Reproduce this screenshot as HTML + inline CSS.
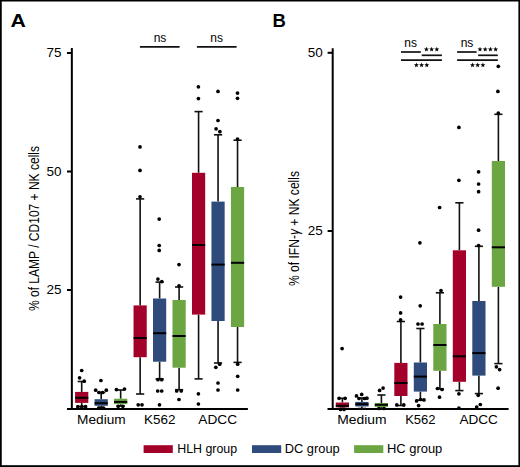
<!DOCTYPE html>
<html><head><meta charset="utf-8">
<style>
html,body{margin:0;padding:0;background:#fff;}
body{width:520px;height:467px;overflow:hidden;}
svg{display:block;}
text{font-family:"Liberation Sans",sans-serif;fill:#000;}

.L{font-size:18.5px;font-weight:bold;fill:#000;}
.t{font-size:13px;}
.tk{font-size:13.5px;}
.yl{font-size:14.5px;}
.ns{font-size:12px;}
.lg{font-size:12px;}
.w{stroke:#111;stroke-width:1.6;}
.m{stroke:#000;stroke-width:2;}
.ax{stroke:#000;stroke-width:2;}
.sg{stroke:#111;stroke-width:1.7;}
circle{fill:#000;}
polygon{fill:#000;}
</style></head><body>
<svg width="520" height="467" viewBox="0 0 520 467">
<rect x="0" y="0" width="520" height="1.5" fill="#000"/><rect x="0" y="0" width="1.75" height="467" fill="#000"/><rect x="518.4" y="0" width="1.6" height="467" fill="#000"/><rect x="0" y="465.2" width="520" height="1.8" fill="#000"/>
<text transform="translate(10.6,26.6) scale(1.15,1)" class="L">A</text>
<text x="272.5" y="27.4" class="L">B</text>
<line x1="71.85" y1="48" x2="71.85" y2="409.7" class="ax"/>
<line x1="67" y1="408.9" x2="247.9" y2="408.9" class="ax"/>
<line x1="67" y1="53" x2="72" y2="53" class="ax"/>
<text x="61.5" y="57.0" class="tk" text-anchor="end">75</text>
<line x1="67" y1="171.5" x2="72" y2="171.5" class="ax"/>
<text x="61.5" y="175.5" class="tk" text-anchor="end">50</text>
<line x1="67" y1="290" x2="72" y2="290" class="ax"/>
<text x="61.5" y="294.0" class="tk" text-anchor="end">25</text>
<line x1="332.7" y1="48.3" x2="332.7" y2="409.9" class="ax"/>
<line x1="327.5" y1="409" x2="508.6" y2="409" class="ax"/>
<line x1="327.6" y1="52.8" x2="333" y2="52.8" class="ax"/>
<text x="322.8" y="57.099999999999994" class="tk" text-anchor="end">50</text>
<line x1="327.6" y1="231" x2="333" y2="231" class="ax"/>
<text x="322.8" y="235.3" class="tk" text-anchor="end">25</text>
<line x1="81.70" y1="381.5" x2="81.70" y2="391.9" class="w"/>
<line x1="81.70" y1="402.9" x2="81.70" y2="406.5" class="w"/>
<line x1="77.60" y1="381.5" x2="85.80" y2="381.5" class="w"/>
<line x1="77.60" y1="406.5" x2="85.80" y2="406.5" class="w"/>
<rect x="75.10" y="391.9" width="13.20" height="11.00" fill="#A3002A"/>
<line x1="75.10" y1="397.8" x2="88.30" y2="397.8" class="m"/>
<circle cx="79.6" cy="377.8" r="1.85"/>
<circle cx="81.7" cy="370.5" r="1.85"/>
<circle cx="84.2" cy="381.2" r="1.85"/>
<circle cx="77.8" cy="406.7" r="1.85"/>
<circle cx="81.8" cy="406.7" r="1.85"/>
<circle cx="85.6" cy="406.7" r="1.85"/>
<line x1="101.18" y1="392.5" x2="101.18" y2="399.2" class="w"/>
<line x1="101.18" y1="405.8" x2="101.18" y2="407.5" class="w"/>
<line x1="97.08" y1="392.5" x2="105.28" y2="392.5" class="w"/>
<line x1="97.08" y1="407.5" x2="105.28" y2="407.5" class="w"/>
<rect x="94.58" y="399.2" width="13.20" height="6.60" fill="#2E4B7C"/>
<line x1="94.58" y1="403.2" x2="107.78" y2="403.2" class="m"/>
<circle cx="95.7" cy="390.2" r="1.85"/>
<circle cx="99.1" cy="392.5" r="1.85"/>
<circle cx="102.6" cy="392.5" r="1.85"/>
<circle cx="106.3" cy="390.2" r="1.85"/>
<circle cx="100.9" cy="380.5" r="1.85"/>
<circle cx="99" cy="408" r="1.85"/>
<circle cx="103" cy="408" r="1.85"/>
<line x1="120.66" y1="390.0" x2="120.66" y2="398.7" class="w"/>
<line x1="120.66" y1="404.2" x2="120.66" y2="406.0" class="w"/>
<line x1="116.56" y1="390.0" x2="124.76" y2="390.0" class="w"/>
<line x1="116.56" y1="406.0" x2="124.76" y2="406.0" class="w"/>
<rect x="114.06" y="398.7" width="13.20" height="5.50" fill="#6BA643"/>
<line x1="114.06" y1="401.9" x2="127.26" y2="401.9" class="m"/>
<circle cx="116.4" cy="389.6" r="1.85"/>
<circle cx="124.5" cy="389" r="1.85"/>
<circle cx="118.2" cy="406.3" r="1.85"/>
<circle cx="122.8" cy="406.3" r="1.85"/>
<line x1="140.14" y1="198.9" x2="140.14" y2="305.4" class="w"/>
<line x1="140.14" y1="357.2" x2="140.14" y2="394.0" class="w"/>
<line x1="136.04" y1="198.9" x2="144.24" y2="198.9" class="w"/>
<line x1="136.04" y1="394.0" x2="144.24" y2="394.0" class="w"/>
<rect x="133.54" y="305.4" width="13.20" height="51.80" fill="#A3002A"/>
<line x1="133.54" y1="338.0" x2="146.74" y2="338.0" class="m"/>
<circle cx="140" cy="146.9" r="1.85"/>
<circle cx="140" cy="170.4" r="1.85"/>
<circle cx="140" cy="196.8" r="1.85"/>
<circle cx="138.2" cy="404.8" r="1.85"/>
<circle cx="142" cy="404.8" r="1.85"/>
<line x1="159.62" y1="282.1" x2="159.62" y2="298.5" class="w"/>
<line x1="159.62" y1="361.7" x2="159.62" y2="379.0" class="w"/>
<line x1="155.52" y1="282.1" x2="163.72" y2="282.1" class="w"/>
<line x1="155.52" y1="379.0" x2="163.72" y2="379.0" class="w"/>
<rect x="153.02" y="298.5" width="13.20" height="63.20" fill="#2E4B7C"/>
<line x1="153.02" y1="333.2" x2="166.22" y2="333.2" class="m"/>
<circle cx="159.2" cy="219.1" r="1.85"/>
<circle cx="159.2" cy="245.5" r="1.85"/>
<circle cx="159.2" cy="250.4" r="1.85"/>
<circle cx="157.9" cy="279.1" r="1.85"/>
<circle cx="161.8" cy="281.6" r="1.85"/>
<circle cx="158" cy="379.7" r="1.85"/>
<circle cx="161.7" cy="379.7" r="1.85"/>
<circle cx="157.7" cy="391" r="1.85"/>
<circle cx="161.7" cy="391" r="1.85"/>
<circle cx="159.5" cy="404.8" r="1.85"/>
<line x1="179.10" y1="287.0" x2="179.10" y2="300.0" class="w"/>
<line x1="179.10" y1="367.7" x2="179.10" y2="389.7" class="w"/>
<line x1="175.00" y1="287.0" x2="183.20" y2="287.0" class="w"/>
<line x1="175.00" y1="389.7" x2="183.20" y2="389.7" class="w"/>
<rect x="172.50" y="300.0" width="13.20" height="67.70" fill="#6BA643"/>
<line x1="172.50" y1="336.0" x2="185.70" y2="336.0" class="m"/>
<circle cx="179" cy="264.6" r="1.85"/>
<circle cx="179" cy="285.8" r="1.85"/>
<circle cx="176.7" cy="391" r="1.85"/>
<circle cx="181.2" cy="391" r="1.85"/>
<circle cx="179" cy="399.5" r="1.85"/>
<line x1="198.58" y1="111.6" x2="198.58" y2="172.8" class="w"/>
<line x1="198.58" y1="314.6" x2="198.58" y2="378.9" class="w"/>
<line x1="194.48" y1="111.6" x2="202.68" y2="111.6" class="w"/>
<line x1="194.48" y1="378.9" x2="202.68" y2="378.9" class="w"/>
<rect x="191.98" y="172.8" width="13.20" height="141.80" fill="#A3002A"/>
<line x1="191.98" y1="245.0" x2="205.18" y2="245.0" class="m"/>
<circle cx="198.4" cy="86.8" r="1.85"/>
<circle cx="198.4" cy="98.6" r="1.85"/>
<circle cx="198.4" cy="393.8" r="1.85"/>
<circle cx="198.4" cy="404" r="1.85"/>
<line x1="218.06" y1="134.8" x2="218.06" y2="201.6" class="w"/>
<line x1="218.06" y1="321.0" x2="218.06" y2="363.0" class="w"/>
<line x1="213.96" y1="134.8" x2="222.16" y2="134.8" class="w"/>
<line x1="213.96" y1="363.0" x2="222.16" y2="363.0" class="w"/>
<rect x="211.46" y="201.6" width="13.20" height="119.40" fill="#2E4B7C"/>
<line x1="211.46" y1="264.6" x2="224.66" y2="264.6" class="m"/>
<circle cx="218" cy="91.4" r="1.85"/>
<circle cx="218" cy="120.5" r="1.85"/>
<circle cx="216.1" cy="128.8" r="1.85"/>
<circle cx="219.9" cy="131.7" r="1.85"/>
<circle cx="215.8" cy="367.3" r="1.85"/>
<circle cx="219.7" cy="364.2" r="1.85"/>
<circle cx="218" cy="383" r="1.85"/>
<circle cx="218" cy="390" r="1.85"/>
<line x1="237.54" y1="140.2" x2="237.54" y2="187.0" class="w"/>
<line x1="237.54" y1="327.0" x2="237.54" y2="362.4" class="w"/>
<line x1="233.44" y1="140.2" x2="241.64" y2="140.2" class="w"/>
<line x1="233.44" y1="362.4" x2="241.64" y2="362.4" class="w"/>
<rect x="230.94" y="187.0" width="13.20" height="140.00" fill="#6BA643"/>
<line x1="230.94" y1="262.8" x2="244.14" y2="262.8" class="m"/>
<circle cx="237.5" cy="93.1" r="1.85"/>
<circle cx="237.5" cy="98.3" r="1.85"/>
<circle cx="237.5" cy="139" r="1.85"/>
<circle cx="237.7" cy="364.2" r="1.85"/>
<circle cx="237.7" cy="376.3" r="1.85"/>
<circle cx="237.7" cy="390" r="1.85"/>
<line x1="342.40" y1="398.3" x2="342.40" y2="402.5" class="w"/>
<line x1="342.40" y1="407.4" x2="342.40" y2="408.5" class="w"/>
<line x1="338.30" y1="398.3" x2="346.50" y2="398.3" class="w"/>
<line x1="338.30" y1="408.5" x2="346.50" y2="408.5" class="w"/>
<rect x="335.80" y="402.5" width="13.20" height="4.90" fill="#A3002A"/>
<line x1="335.80" y1="405.8" x2="349.00" y2="405.8" class="m"/>
<circle cx="342.1" cy="348.6" r="1.85"/>
<circle cx="339.1" cy="398.3" r="1.85"/>
<circle cx="345.1" cy="398.3" r="1.85"/>
<circle cx="340.5" cy="409.4" r="1.85"/>
<circle cx="344" cy="409.4" r="1.85"/>
<line x1="361.90" y1="398.0" x2="361.90" y2="401.9" class="w"/>
<line x1="361.90" y1="406.5" x2="361.90" y2="408.5" class="w"/>
<line x1="357.80" y1="398.0" x2="366.00" y2="398.0" class="w"/>
<line x1="357.80" y1="408.5" x2="366.00" y2="408.5" class="w"/>
<rect x="355.30" y="401.9" width="13.20" height="4.60" fill="#2E4B7C"/>
<line x1="355.30" y1="404.2" x2="368.50" y2="404.2" class="m"/>
<circle cx="356.5" cy="395.9" r="1.85"/>
<circle cx="361.7" cy="394.4" r="1.85"/>
<circle cx="366.9" cy="398.2" r="1.85"/>
<circle cx="359" cy="398.5" r="1.85"/>
<circle cx="364.5" cy="398.5" r="1.85"/>
<line x1="381.40" y1="395.0" x2="381.40" y2="403.0" class="w"/>
<line x1="381.40" y1="407.1" x2="381.40" y2="408.5" class="w"/>
<line x1="377.30" y1="395.0" x2="385.50" y2="395.0" class="w"/>
<line x1="377.30" y1="408.5" x2="385.50" y2="408.5" class="w"/>
<rect x="374.80" y="403.0" width="13.20" height="4.10" fill="#6BA643"/>
<line x1="374.80" y1="404.8" x2="388.00" y2="404.8" class="m"/>
<circle cx="379.6" cy="390.4" r="1.85"/>
<circle cx="383.1" cy="388.1" r="1.85"/>
<circle cx="379" cy="408.5" r="1.85"/>
<circle cx="384" cy="408.5" r="1.85"/>
<line x1="400.90" y1="321.5" x2="400.90" y2="362.9" class="w"/>
<line x1="400.90" y1="396.0" x2="400.90" y2="405.5" class="w"/>
<line x1="396.80" y1="321.5" x2="405.00" y2="321.5" class="w"/>
<line x1="396.80" y1="405.5" x2="405.00" y2="405.5" class="w"/>
<rect x="394.30" y="362.9" width="13.20" height="33.10" fill="#A3002A"/>
<line x1="394.30" y1="383.0" x2="407.50" y2="383.0" class="m"/>
<circle cx="400.6" cy="297.1" r="1.85"/>
<circle cx="400.6" cy="312.9" r="1.85"/>
<circle cx="400.6" cy="319.8" r="1.85"/>
<circle cx="396.8" cy="404.9" r="1.85"/>
<circle cx="403.8" cy="404.9" r="1.85"/>
<line x1="420.40" y1="328.5" x2="420.40" y2="362.5" class="w"/>
<line x1="420.40" y1="391.6" x2="420.40" y2="400.2" class="w"/>
<line x1="416.30" y1="328.5" x2="424.50" y2="328.5" class="w"/>
<line x1="416.30" y1="400.2" x2="424.50" y2="400.2" class="w"/>
<rect x="413.80" y="362.5" width="13.20" height="29.10" fill="#2E4B7C"/>
<line x1="413.80" y1="376.6" x2="427.00" y2="376.6" class="m"/>
<circle cx="419.9" cy="242.8" r="1.85"/>
<circle cx="420.2" cy="305.8" r="1.85"/>
<circle cx="418" cy="324" r="1.85"/>
<circle cx="422.1" cy="324" r="1.85"/>
<circle cx="416.6" cy="400.9" r="1.85"/>
<circle cx="420.7" cy="399.5" r="1.85"/>
<circle cx="424" cy="399.9" r="1.85"/>
<circle cx="418.6" cy="405.6" r="1.85"/>
<line x1="439.90" y1="292.8" x2="439.90" y2="324.0" class="w"/>
<line x1="439.90" y1="370.8" x2="439.90" y2="389.0" class="w"/>
<line x1="435.80" y1="292.8" x2="444.00" y2="292.8" class="w"/>
<line x1="435.80" y1="389.0" x2="444.00" y2="389.0" class="w"/>
<rect x="433.30" y="324.0" width="13.20" height="46.80" fill="#6BA643"/>
<line x1="433.30" y1="345.0" x2="446.50" y2="345.0" class="m"/>
<circle cx="439.6" cy="207.5" r="1.85"/>
<circle cx="441" cy="290.6" r="1.85"/>
<circle cx="437.5" cy="388.5" r="1.85"/>
<circle cx="442" cy="389.5" r="1.85"/>
<circle cx="439.5" cy="397.2" r="1.85"/>
<line x1="459.40" y1="202.8" x2="459.40" y2="250.3" class="w"/>
<line x1="459.40" y1="381.8" x2="459.40" y2="390.6" class="w"/>
<line x1="455.30" y1="202.8" x2="463.50" y2="202.8" class="w"/>
<line x1="455.30" y1="390.6" x2="463.50" y2="390.6" class="w"/>
<rect x="452.80" y="250.3" width="13.20" height="131.50" fill="#A3002A"/>
<line x1="452.80" y1="356.3" x2="466.00" y2="356.3" class="m"/>
<circle cx="458.9" cy="127.4" r="1.85"/>
<circle cx="458.9" cy="180.3" r="1.85"/>
<circle cx="458.9" cy="393.8" r="1.85"/>
<circle cx="458.9" cy="408" r="1.85"/>
<line x1="478.90" y1="246.3" x2="478.90" y2="301.0" class="w"/>
<line x1="478.90" y1="375.6" x2="478.90" y2="393.6" class="w"/>
<line x1="474.80" y1="246.3" x2="483.00" y2="246.3" class="w"/>
<line x1="474.80" y1="393.6" x2="483.00" y2="393.6" class="w"/>
<rect x="472.30" y="301.0" width="13.20" height="74.60" fill="#2E4B7C"/>
<line x1="472.30" y1="353.1" x2="485.50" y2="353.1" class="m"/>
<circle cx="478.6" cy="171.8" r="1.85"/>
<circle cx="478.6" cy="184" r="1.85"/>
<circle cx="478.6" cy="191.7" r="1.85"/>
<circle cx="478.6" cy="230.2" r="1.85"/>
<circle cx="478.6" cy="245.5" r="1.85"/>
<circle cx="478.2" cy="395.3" r="1.85"/>
<circle cx="476.7" cy="407.1" r="1.85"/>
<circle cx="480.3" cy="404.5" r="1.85"/>
<line x1="498.40" y1="114.3" x2="498.40" y2="161.0" class="w"/>
<line x1="498.40" y1="286.8" x2="498.40" y2="363.6" class="w"/>
<line x1="494.30" y1="114.3" x2="502.50" y2="114.3" class="w"/>
<line x1="494.30" y1="363.6" x2="502.50" y2="363.6" class="w"/>
<rect x="491.80" y="161.0" width="13.20" height="125.80" fill="#6BA643"/>
<line x1="491.80" y1="247.3" x2="505.00" y2="247.3" class="m"/>
<circle cx="498.3" cy="66.3" r="1.85"/>
<circle cx="497.9" cy="91.4" r="1.85"/>
<circle cx="498.3" cy="113" r="1.85"/>
<circle cx="496.4" cy="366.8" r="1.85"/>
<circle cx="499.6" cy="369.6" r="1.85"/>
<circle cx="498.1" cy="388.2" r="1.85"/>
<text x="101.4" y="424.2" class="t" text-anchor="middle" textLength="48.6" lengthAdjust="spacingAndGlyphs">Medium</text>
<text x="159.7" y="424.2" class="t" text-anchor="middle" textLength="31.4" lengthAdjust="spacingAndGlyphs">K562</text>
<text x="217.75" y="424.2" class="t" text-anchor="middle" textLength="38.8" lengthAdjust="spacingAndGlyphs">ADCC</text>
<text x="361.95" y="424.3" class="t" text-anchor="middle" textLength="49.3" lengthAdjust="spacingAndGlyphs">Medium</text>
<text x="420.35" y="424.3" class="t" text-anchor="middle" textLength="30.4" lengthAdjust="spacingAndGlyphs">K562</text>
<text x="478.7" y="424.3" class="t" text-anchor="middle" textLength="38.5" lengthAdjust="spacingAndGlyphs">ADCC</text>
<text transform="translate(38.5,228.5) rotate(-90)" class="yl" text-anchor="middle" textLength="165" lengthAdjust="spacingAndGlyphs">% of LAMP / CD107 + NK cells</text>
<text transform="translate(298.7,228.5) rotate(-90)" class="yl" text-anchor="middle" textLength="115" lengthAdjust="spacingAndGlyphs">% of IFN-<tspan font-style="italic">γ</tspan> + NK cells</text>
<line x1="139.9" y1="46.8" x2="179.6" y2="46.8" class="sg"/>
<line x1="196.9" y1="46.8" x2="236.6" y2="46.8" class="sg"/>
<text x="160" y="42" class="ns" text-anchor="middle">ns</text>
<text x="216.6" y="42" class="ns" text-anchor="middle">ns</text>
<line x1="401" y1="52" x2="420.8" y2="52" class="sg"/>
<line x1="421.7" y1="55.3" x2="441.9" y2="55.3" class="sg"/>
<line x1="401" y1="60.2" x2="441.9" y2="60.2" class="sg"/>
<text x="410.6" y="47" class="ns" text-anchor="middle">ns</text>
<polygon points="426.40,46.70 427.04,48.42 428.87,48.50 427.44,49.64 427.93,51.40 426.40,50.39 424.87,51.40 425.36,49.64 423.93,48.50 425.76,48.42"/><polygon points="431.60,46.70 432.24,48.42 434.07,48.50 432.64,49.64 433.13,51.40 431.60,50.39 430.07,51.40 430.56,49.64 429.13,48.50 430.96,48.42"/><polygon points="436.80,46.70 437.44,48.42 439.27,48.50 437.84,49.64 438.33,51.40 436.80,50.39 435.27,51.40 435.76,49.64 434.33,48.50 436.16,48.42"/>
<polygon points="416.40,62.50 417.04,64.22 418.87,64.30 417.44,65.44 417.93,67.20 416.40,66.19 414.87,67.20 415.36,65.44 413.93,64.30 415.76,64.22"/><polygon points="421.60,62.50 422.24,64.22 424.07,64.30 422.64,65.44 423.13,67.20 421.60,66.19 420.07,67.20 420.56,65.44 419.13,64.30 420.96,64.22"/><polygon points="426.80,62.50 427.44,64.22 429.27,64.30 427.84,65.44 428.33,67.20 426.80,66.19 425.27,67.20 425.76,65.44 424.33,64.30 426.16,64.22"/>
<line x1="457.1" y1="52" x2="476.6" y2="52" class="sg"/>
<line x1="478.1" y1="55.3" x2="497.8" y2="55.3" class="sg"/>
<line x1="457.1" y1="60.2" x2="497.8" y2="60.2" class="sg"/>
<text x="467" y="47" class="ns" text-anchor="middle">ns</text>
<polygon points="480.00,46.70 480.64,48.42 482.47,48.50 481.04,49.64 481.53,51.40 480.00,50.39 478.47,51.40 478.96,49.64 477.53,48.50 479.36,48.42"/><polygon points="485.20,46.70 485.84,48.42 487.67,48.50 486.24,49.64 486.73,51.40 485.20,50.39 483.67,51.40 484.16,49.64 482.73,48.50 484.56,48.42"/><polygon points="490.40,46.70 491.04,48.42 492.87,48.50 491.44,49.64 491.93,51.40 490.40,50.39 488.87,51.40 489.36,49.64 487.93,48.50 489.76,48.42"/><polygon points="495.60,46.70 496.24,48.42 498.07,48.50 496.64,49.64 497.13,51.40 495.60,50.39 494.07,51.40 494.56,49.64 493.13,48.50 494.96,48.42"/>
<polygon points="472.50,62.50 473.14,64.22 474.97,64.30 473.54,65.44 474.03,67.20 472.50,66.19 470.97,67.20 471.46,65.44 470.03,64.30 471.86,64.22"/><polygon points="477.70,62.50 478.34,64.22 480.17,64.30 478.74,65.44 479.23,67.20 477.70,66.19 476.17,67.20 476.66,65.44 475.23,64.30 477.06,64.22"/><polygon points="482.90,62.50 483.54,64.22 485.37,64.30 483.94,65.44 484.43,67.20 482.90,66.19 481.37,67.20 481.86,65.44 480.43,64.30 482.26,64.22"/>
<rect x="143.6" y="445.2" width="29.2" height="7.8" fill="#A3002A"/>
<text x="177.2" y="453.2" class="lg" textLength="59.9" lengthAdjust="spacingAndGlyphs">HLH group</text>
<rect x="252" y="445.2" width="29.2" height="7.8" fill="#2E4B7C"/>
<text x="284.7" y="453.2" class="lg" textLength="55" lengthAdjust="spacingAndGlyphs">DC group</text>
<rect x="354.1" y="445.2" width="29.2" height="7.8" fill="#6BA643"/>
<text x="386.9" y="453.2" class="lg" textLength="55.4" lengthAdjust="spacingAndGlyphs">HC group</text>
</svg>
</body></html>
